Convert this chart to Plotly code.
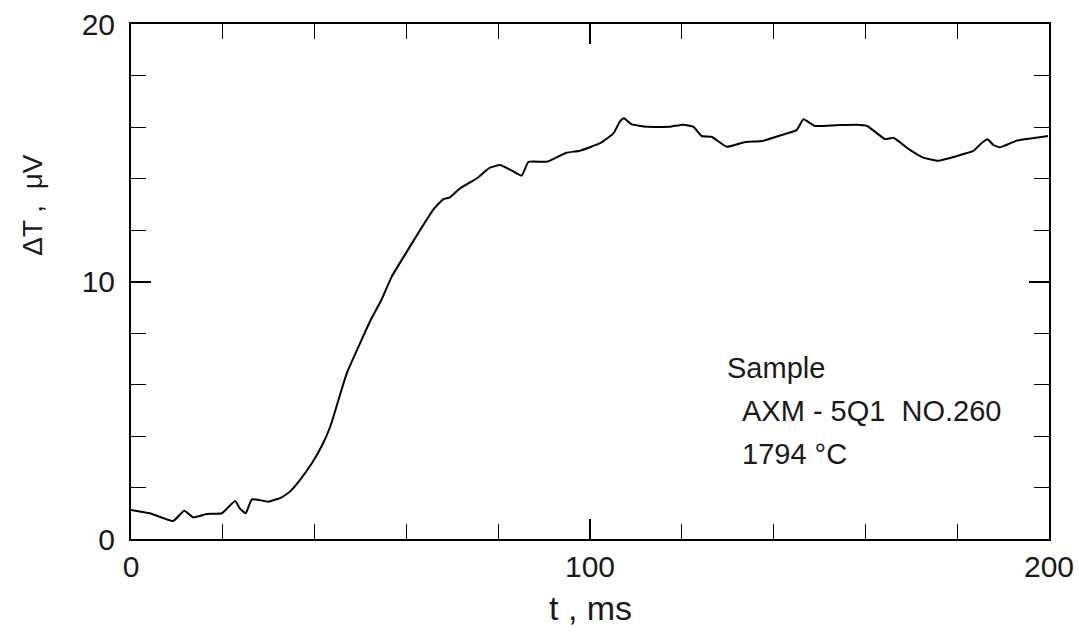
import plotly.graph_objects as go

t_ms = [0, 4.1, 9.2, 11.6, 13.6, 16.5, 19.8, 22.7, 23.7, 25.0, 26.3, 28.1, 29.9, 32.8, 34.6,
        36.8, 39.4, 41.5, 43.4, 45.2, 47.0, 49.9, 52.4, 54.6, 56.8, 60.1, 63.0, 65.9, 68.0,
        69.5, 71.7, 75.3, 78.2, 80.4, 83.0, 85.1, 86.6, 90.6, 94.9, 97.8, 102.2, 105.1, 106.5,
        107.4, 109.1, 112.4, 117.4, 120.3, 122.5, 124.3, 126.5, 129.8, 133.4, 137.8, 141.4,
        145.0, 146.5, 149.0, 153.7, 158.1, 160.4, 164.3, 166.1, 169.7, 172.6, 175.9, 179.9,
        183.5, 185.3, 186.6, 187.9, 189.3, 193.0, 199.8]
dT_uV = [1.13, 1.0, 0.70, 1.10, 0.84, 0.97, 1.0, 1.48, 1.19, 1.0, 1.54, 1.51, 1.45, 1.62, 1.84,
         2.29, 2.94, 3.59, 4.36, 5.40, 6.43, 7.60, 8.57, 9.30, 10.19, 11.16, 12.0, 12.80, 13.19,
         13.27, 13.62, 14.0, 14.42, 14.52, 14.30, 14.11, 14.65, 14.65, 15.0, 15.08, 15.37, 15.75, 16.21,
         16.34, 16.10, 16.01, 16.01, 16.09, 16.01, 15.65, 15.62, 15.23, 15.40, 15.47, 15.67,
         15.88, 16.30, 16.04, 16.07, 16.09, 16.04, 15.53, 15.58, 15.11, 14.81, 14.69, 14.87,
         15.07, 15.37, 15.52, 15.30, 15.21, 15.47, 15.65]

x_ticks = [0, 100, 200]
y_ticks = [0, 10, 20]
sample_lines = ["Sample", "AXM - 5Q1  NO.260", "1794 °C"]

FONT = "Liberation Sans, Arial, sans-serif"
INK = "#1a1a1a"

fig = go.Figure()
fig.add_trace(go.Scatter(x=t_ms, y=dT_uV, mode="lines",
                         line=dict(color="black", width=2, shape="spline", smoothing=0.4),
                         showlegend=False))

axis_common = dict(showgrid=False, zeroline=False, showline=True, linecolor="black",
                   linewidth=2, mirror="ticks", ticks="inside", ticklen=20, tickwidth=1.5,
                   tickcolor="black", automargin=False,
                   tickfont=dict(family=FONT, size=30, color=INK))

fig.update_xaxes(range=[0, 200], tickvals=x_ticks,
                 minor=dict(dtick=20, ticks="inside", ticklen=15, tickwidth=1.2, tickcolor="black"),
                 ticklabelstandoff=0, **axis_common)
fig.update_yaxes(range=[0, 20], tickvals=y_ticks,
                 minor=dict(dtick=2, ticks="inside", ticklen=15, tickwidth=1.2, tickcolor="black"),
                 ticklabelstandoff=8, **axis_common)

fig.add_annotation(text="t , ms", xref="paper", yref="paper", x=0.5, y=0, yshift=-69,
                   xanchor="center", yanchor="middle",
                   showarrow=False, font=dict(family=FONT, size=34, color=INK))
fig.add_annotation(text="ΔT ,  μV", xref="paper", yref="paper", x=0, y=0.649, xshift=-98,
                   xanchor="center", yanchor="middle",
                   textangle=-90, showarrow=False, font=dict(family=FONT, size=28, color=INK))

for i, line in enumerate(sample_lines):
    fig.add_annotation(text=line, xref="x", yref="y", x=129.4 if i == 0 else 132.6,
                       y=6.65 - i * 1.68, xanchor="left", yanchor="middle", showarrow=False,
                       font=dict(family=FONT, size=29, color=INK))

fig.update_layout(width=1079, height=639, margin=dict(l=131, r=30, t=24, b=100),
                  plot_bgcolor="white", paper_bgcolor="white")

fig.write_html("out.html")
